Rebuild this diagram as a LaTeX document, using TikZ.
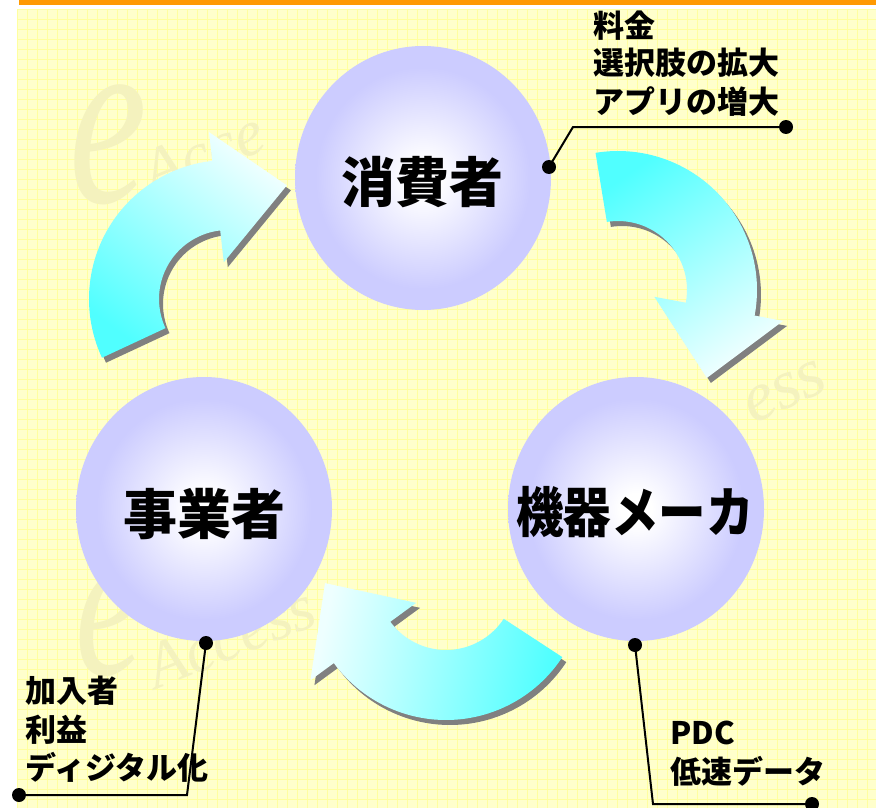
\documentclass[tikz,border=0pt]{standalone}
\usepackage{fontspec}
\usepackage{graphicx}
\setmainfont{Liberation Serif}
\newfontfamily\jp{Noto Sans CJK JP}
\usetikzlibrary{shapes.geometric}
\definecolor{lav}{RGB}{204,204,255}
\definecolor{cyanA}{RGB}{80,255,255}
\definecolor{cyanB}{RGB}{238,255,255}
\definecolor{bgy}{RGB}{255,255,204}
\definecolor{gridy}{RGB}{255,255,160}
\definecolor{orangebar}{RGB}{255,153,0}
\definecolor{shadowgray}{RGB}{128,128,128}
\definecolor{wm}{RGB}{244,242,190}
\pgfdeclareradialshading{ballshade}{\pgfpoint{0bp}{0bp}}{color(0bp)=(white); color(3bp)=(white); color(21bp)=(lav); color(25bp)=(lav); color(50bp)=(lav)}
\tikzset{
  ball/.style={ellipse, minimum width=256pt, minimum height=264pt, inner sep=0pt, shade, shading=ballshade},
  bigtxt/.style={font=\jp\bfseries\fontsize{54}{54}\selectfont, inner sep=0pt},
  lbl/.style={font=\jp\bfseries\fontsize{31}{31}\selectfont, inner sep=0pt, anchor=west},
  dotnode/.style={circle, fill=black, inner sep=0pt, minimum size=14pt},
  leader/.style={draw=black, line width=2pt},
  wmtext/.style={text=wm, inner sep=0pt},
}
\newcommand{\cyclearrow}[7]{%
  \begin{scope}[shift={(#1,#2)}]
    \begin{scope}[shift={(4,5)}]
      \fill[shadowgray] (#3:139) arc[start angle=#3, end angle=#4, radius=139] -- (#4:168) -- (#5:#6) -- (#4:37) -- (#4:69) arc[start angle=#4, end angle=#3, radius=69] -- cycle;
    \end{scope}
    \shade[top color=cyanB, bottom color=cyanA, shading angle=#7] (#3:139) arc[start angle=#3, end angle=#4, radius=139] -- (#4:168) -- (#5:#6) -- (#4:37) -- (#4:69) arc[start angle=#4, end angle=#3, radius=69] -- cycle;
  \end{scope}}
\begin{document}
\begin{tikzpicture}[x=1pt, y=-1pt]
\useasboundingbox (0,0) rectangle (876,808);
% background
\fill[bgy] (17,9) rectangle (876,808);
\foreach \i in {17,27,...,876} \draw[gridy, line width=0.8pt] (\i,9) -- (\i,808);
\foreach \j in {9,19,...,808} \draw[gridy, line width=0.8pt] (17,\j) -- (876,\j);
\fill[orangebar] (19,0) rectangle (876,5);
% watermarks (faint)
\node[wmtext] (wmAe) at (108,145) {\scalebox{0.7}[1]{\fontsize{250}{250}\selectfont\itshape e}};
\node[wmtext, anchor=base west, rotate=22, font=\fontsize{65}{65}\selectfont\itshape] (wmAt) at (152,196) {Acce};
\node[wmtext, rotate=25, font=\fontsize{70}{70}\selectfont\itshape] (wmBt) at (785,392) {ess};
\node[wmtext] (wmCe) at (110,624) {\scalebox{0.7}[1]{\fontsize{220}{220}\selectfont\itshape e}};
\node[wmtext, anchor=base west, rotate=22, font=\fontsize{65}{65}\selectfont\itshape] (wmCt) at (156,690) {Access};
% arrows
\cyclearrow{228}{299}{155}{263.5}{297.4}{128}{-37}
\cyclearrow{618}{290}{260.7}{370.6}{404.7}{125}{-145}
\cyclearrow{446}{581}{33.2}{143.8}{179}{121}{78}
% circles
\node[ball] (consumer) at (423,178) {};
\node[ball] (operator) at (204,509) {};
\node[ball] (maker) at (636,509) {};
\node[bigtxt] (consumerT) at (422,182) {消費者};
\node[bigtxt] (operatorT) at (204,514) {事業者};
\node[bigtxt] (makerT) at (635,512) {\scalebox{0.88}[1]{機器メーカ}};
% leaders
\node[dotnode] (dA1) at (549,167) {};
\node[dotnode] (dA2) at (786,127) {};
\coordinate (kA) at (573,127);
\draw[leader] (dA1.center) -- (kA) -- (dA2.center);
\node[dotnode] (dB1) at (206,643) {};
\node[dotnode] (dB2) at (19,795) {};
\coordinate (kB) at (187,795);
\draw[leader] (dB1.center) -- (kB) -- (dB2.center);
\node[dotnode] (dC1) at (635,645) {};
\node[dotnode] (dC2) at (812,804) {};
\coordinate (kC) at (653,804);
\draw[leader] (dC1.center) -- (kC) -- (dC2.center);
% labels
\node[lbl] (lA1) at (593,26) {料金};
\node[lbl] (lA2) at (593,62.5) {選択肢の拡大};
\node[lbl] (lA3) at (593,101.5) {アプリの増大};
\node[lbl] (lB1) at (25,691) {加入者};
\node[lbl] (lB2) at (25,730) {利益};
\node[lbl] (lB3) at (25,767) {ディジタル化};
\node[lbl] (lC1) at (670,733) {PDC};
\node[lbl] (lC2) at (670,771) {低速データ};
\end{tikzpicture}
\end{document}
